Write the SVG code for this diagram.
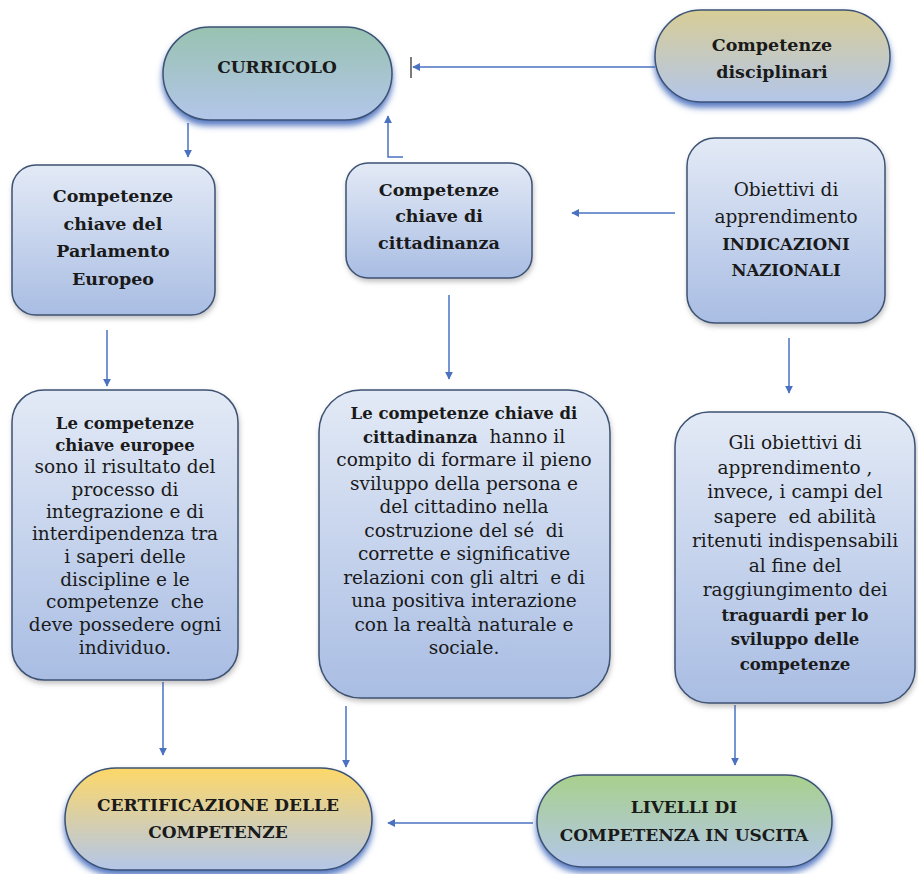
<svg xmlns="http://www.w3.org/2000/svg" width="918" height="874" viewBox="0 0 918 874">
<defs>
<style>
.shape{stroke:#3e5273;stroke-width:1.5}
.t{font-family:"DejaVu Serif","Liberation Serif",serif;fill:#1a1a1a;text-anchor:middle}
.h{font-size:17.5px;font-weight:bold}
.cap{font-size:17px;font-weight:bold}
.r{font-size:18.5px}
.b{font-size:16.5px;font-weight:bold}
.con{stroke:#4a72c0;stroke-width:1.5;fill:none}
</style>
<linearGradient id="gBox" x1="0" y1="0" x2="0" y2="1"><stop offset="0" stop-color="#e3eaf6"/><stop offset="1" stop-color="#a9bde3"/></linearGradient>
<linearGradient id="gTeal" x1="0" y1="0" x2="0" y2="1"><stop offset="0" stop-color="#98c2b0"/><stop offset="1" stop-color="#b3c6ea"/></linearGradient>
<linearGradient id="gKhaki" x1="0" y1="0" x2="0" y2="1"><stop offset="0" stop-color="#d8cd96"/><stop offset="1" stop-color="#b3c6ea"/></linearGradient>
<linearGradient id="gYellow" x1="0" y1="0" x2="0" y2="1"><stop offset="0" stop-color="#fdd868"/><stop offset="1" stop-color="#b3c6ea"/></linearGradient>
<linearGradient id="gGreen" x1="0" y1="0" x2="0" y2="1"><stop offset="0" stop-color="#a8d08c"/><stop offset="1" stop-color="#b3c6ea"/></linearGradient>
<filter id="pillSh" x="-10%" y="-10%" width="120%" height="130%"><feDropShadow dx="0" dy="5" stdDeviation="3" flood-color="#3a64b8" flood-opacity="0.85"/></filter>
<filter id="boxSh" x="-10%" y="-10%" width="120%" height="120%"><feDropShadow dx="1" dy="3" stdDeviation="2.5" flood-color="#555" flood-opacity="0.35"/></filter>
<marker id="ah" markerWidth="8" markerHeight="8" viewBox="0 0 10 10" refX="9" refY="5" orient="auto" markerUnits="userSpaceOnUse"><path d="M0,0 L10,5 L0,10 z" fill="#4a72c0"/></marker>
</defs>
<rect width="918" height="874" fill="#ffffff"/>

<g id="connectors">
<line class="con" x1="655" y1="67" x2="413" y2="67" marker-end="url(#ah)"/>
<line x1="411" y1="57" x2="411" y2="78" stroke="#222" stroke-width="1.2"/>
<line class="con" x1="188" y1="123" x2="188" y2="157" marker-end="url(#ah)"/>
<path class="con" d="M403,157 H388 V116" marker-end="url(#ah)"/>
<line class="con" x1="675" y1="213" x2="572" y2="213" marker-end="url(#ah)"/>
<line class="con" x1="107" y1="330" x2="107" y2="386" marker-end="url(#ah)"/>
<line class="con" x1="449" y1="295" x2="449" y2="379" marker-end="url(#ah)"/>
<line class="con" x1="789" y1="338" x2="789" y2="393" marker-end="url(#ah)"/>
<line class="con" x1="163" y1="682" x2="163" y2="755" marker-end="url(#ah)"/>
<line class="con" x1="346" y1="706" x2="346" y2="767" marker-end="url(#ah)"/>
<line class="con" x1="735" y1="705" x2="735" y2="765" marker-end="url(#ah)"/>
<line class="con" x1="533" y1="823" x2="388" y2="823" marker-end="url(#ah)"/>
</g>

<g id="curricolo">
<rect class="shape" x="163" y="27" width="229" height="93" rx="46.5" fill="url(#gTeal)" filter="url(#pillSh)"/>
<text class="t cap" x="277" y="73">CURRICOLO</text>
</g>

<g id="competenze-disciplinari">
<rect class="shape" x="655" y="10" width="235" height="92" rx="46" fill="url(#gKhaki)" filter="url(#pillSh)"/>
<text class="t h" x="772" y="51">Competenze</text>
<text class="t h" x="772" y="78">disciplinari</text>
</g>

<g id="chiave-parlamento">
<rect class="shape" x="12" y="165" width="203" height="150" rx="24" fill="url(#gBox)" filter="url(#boxSh)"/>
<text class="t h" x="113" y="202">Competenze</text>
<text class="t h" x="113" y="230">chiave del</text>
<text class="t h" x="113" y="257">Parlamento</text>
<text class="t h" x="113" y="285">Europeo</text>
</g>

<g id="chiave-cittadinanza">
<rect class="shape" x="346" y="163" width="186" height="115" rx="22" fill="url(#gBox)" filter="url(#boxSh)"/>
<text class="t h" x="439" y="196">Competenze</text>
<text class="t h" x="439" y="222">chiave di</text>
<text class="t h" x="439" y="249">cittadinanza</text>
</g>

<g id="obiettivi">
<rect class="shape" x="687" y="138" width="198" height="185" rx="28" fill="url(#gBox)" filter="url(#boxSh)"/>
<text class="t r" x="786" y="196">Obiettivi di</text>
<text class="t r" x="786" y="223">apprendimento</text>
<text class="t b" x="786" y="250">INDICAZIONI</text>
<text class="t b" x="786" y="276">NAZIONALI</text>
</g>

<g id="europee-desc">
<rect class="shape" x="12" y="390" width="226" height="290" rx="32" fill="url(#gBox)" filter="url(#boxSh)"/>
<text class="t b" x="125" y="429">Le competenze</text>
<text class="t b" x="125" y="451">chiave europee</text>
<text class="t r" x="125" y="473">sono il risultato del</text>
<text class="t r" x="125" y="496">processo di</text>
<text class="t r" x="125" y="518">integrazione e di</text>
<text class="t r" x="125" y="540">interdipendenza tra</text>
<text class="t r" x="125" y="563">i saperi delle</text>
<text class="t r" x="125" y="586">discipline e le</text>
<text class="t r" x="125" y="608" xml:space="preserve">competenze  che</text>
<text class="t r" x="125" y="631">deve possedere ogni</text>
<text class="t r" x="125" y="654">individuo.</text>
</g>

<g id="cittadinanza-desc">
<rect class="shape" x="319" y="390" width="291" height="308" rx="42" fill="url(#gBox)" filter="url(#boxSh)"/>
<text class="t r" x="464" y="419"><tspan class="b">Le competenze chiave di</tspan></text>
<text class="t r" x="464" y="442.5" xml:space="preserve"><tspan class="b">cittadinanza</tspan>  hanno il</text>
<text class="t r" x="464" y="466">compito di formare il pieno</text>
<text class="t r" x="464" y="489.5">sviluppo della persona e</text>
<text class="t r" x="464" y="513">del cittadino nella</text>
<text class="t r" x="464" y="536.5" xml:space="preserve">costruzione del sé  di</text>
<text class="t r" x="464" y="560">corrette e significative</text>
<text class="t r" x="464" y="583.5" xml:space="preserve">relazioni con gli altri  e di</text>
<text class="t r" x="464" y="607">una positiva interazione</text>
<text class="t r" x="464" y="630.5">con la realtà naturale e</text>
<text class="t r" x="464" y="654">sociale.</text>
</g>

<g id="obiettivi-desc">
<rect class="shape" x="675" y="412" width="240" height="291" rx="34" fill="url(#gBox)" filter="url(#boxSh)"/>
<text class="t r" x="795" y="449">Gli obiettivi di</text>
<text class="t r" x="795" y="473.5">apprendimento ,</text>
<text class="t r" x="795" y="498">invece, i campi del</text>
<text class="t r" x="795" y="522.5" xml:space="preserve">sapere  ed abilità</text>
<text class="t r" x="795" y="547">ritenuti indispensabili</text>
<text class="t r" x="795" y="571.5">al fine del</text>
<text class="t r" x="795" y="596">raggiungimento dei</text>
<text class="t b" x="795" y="620.5">traguardi per lo</text>
<text class="t b" x="795" y="645">sviluppo delle</text>
<text class="t b" x="795" y="669.5">competenze</text>
</g>

<g id="certificazione">
<rect class="shape" x="65" y="768" width="307" height="102" rx="51" fill="url(#gYellow)" filter="url(#pillSh)"/>
<text class="t cap" x="218" y="811">CERTIFICAZIONE DELLE</text>
<text class="t cap" x="218" y="838">COMPETENZE</text>
</g>

<g id="livelli">
<rect class="shape" x="537" y="775" width="295" height="92" rx="46" fill="url(#gGreen)" filter="url(#pillSh)"/>
<text class="t cap" x="684" y="813">LIVELLI DI</text>
<text class="t cap" x="684" y="841">COMPETENZA IN USCITA</text>
</g>
</svg>
